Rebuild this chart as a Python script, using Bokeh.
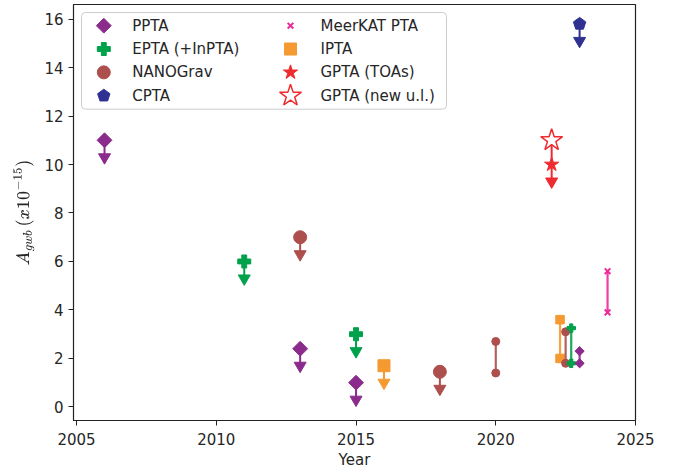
import numpy as np
from bokeh.plotting import figure
from bokeh.models import Range1d, SingleIntervalTicker
from bokeh.core.properties import value
from bokeh.embed import file_html
from bokeh.resources import INLINE

# ---------------- data ----------------
ppta_ul_year = [2006, 2013, 2015]
ppta_ul = [11.0, 2.4, 1.0]
ppta_rng_year = [2023.0]
ppta_rng_lo = [1.8]
ppta_rng_hi = [2.3]

epta_ul_year = [2011, 2015]
epta_ul = [6.0, 3.0]
epta_rng_year = [2022.7]
epta_rng_lo = [1.8]
epta_rng_hi = [3.25]

nanograv_ul_year = [2013, 2018]
nanograv_ul = [7.0, 1.45]
nanograv_rng_year = [2020.0, 2022.5]
nanograv_rng_lo = [1.4, 1.8]
nanograv_rng_hi = [2.7, 3.1]

cpta_ul_year = [2023.0]
cpta_ul = [15.8]

meerkat_rng_year = [2024.0]
meerkat_rng_lo = [3.9]
meerkat_rng_hi = [5.6]

ipta_ul_year = [2016.0]
ipta_ul = [1.7]
ipta_rng_year = [2022.3]
ipta_rng_lo = [2.0]
ipta_rng_hi = [3.6]

gpta_toa_year = [2022.0]
gpta_toa = [10.0]
gpta_new_year = [2022.0]
gpta_new = [11.0]

legend_col1 = ["PPTA", "EPTA (+InPTA)", "NANOGrav", "CPTA"]
legend_col2 = ["MeerKAT PTA", "IPTA", "GPTA (TOAs)", "GPTA (new u.l.)"]

x_ticks_interval = 5
y_ticks_interval = 2

# ---------------- styles ----------------
C_PPTA = "#8b2c8c"
C_EPTA = "#00a14b"
C_NANO = "#ad4f4d"
C_CPTA = "#2e3192"
C_MEER = "#ec2a9a"
C_IPTA = "#f49a30"
C_GPTA = "#ee2b2f"
TXT = "#262626"
FONT = "DejaVu Sans"
FS = "15px"
SHAFT = 0.6     # arrow shaft length (y units)
HEAD = 0.70     # arrow head centre offset (y units)

S_PPTA = dict(marker="square", angle=np.pi / 4, size=10.5, fill_color=C_PPTA, line_color=C_PPTA)
S_EPTA = dict(marker="plus", size=13, fill_color=C_EPTA, line_color=C_EPTA)
S_NANO = dict(marker="circle", size=13, fill_color=C_NANO, line_color=C_NANO)
S_CPTA = dict(radius=6.5, radius_units="screen", n=5, fill_color=C_CPTA, line_color=C_CPTA)
S_MEER = dict(marker="x", size=8, line_color=C_MEER, line_width=2)
S_IPTA = dict(marker="square", size=12, fill_color=C_IPTA, line_color=C_IPTA)
S_GTOA = dict(marker="star", size=15, fill_color=C_GPTA, line_color=C_GPTA)
S_GNEW = dict(marker="star", size=23, fill_color="white", line_color=C_GPTA, line_width=1.5)

FW, FH = 562, 416
p = figure(frame_width=FW, frame_height=FH,
           x_range=Range1d(2004.89, 2025.0), y_range=Range1d(-0.56, 16.6),
           output_backend="svg", toolbar_location=None,
           min_border_left=73, min_border_right=37, min_border_top=4, min_border_bottom=0)
p.extra_x_ranges = {"px": Range1d(0, FW)}
p.extra_y_ranges = {"px": Range1d(FH, 0)}
p.grid.visible = False
p.outline_line_color = "#222222"
p.outline_line_width = 1.2

for ax in (p.xaxis, p.yaxis):
    ax.axis_line_color = "#222222"
    ax.major_tick_line_color = "#222222"
    ax.major_tick_out = 5
    ax.major_tick_in = 0
    ax.minor_tick_line_color = None
    ax.major_label_text_font = FONT
    ax.major_label_text_font_size = FS
    ax.major_label_text_color = TXT
    ax.axis_label_text_font = FONT
    ax.axis_label_text_font_size = FS
    ax.axis_label_text_color = TXT
    ax.axis_label_text_font_style = "normal"

p.xaxis.major_label_standoff = 7
p.xaxis.axis_label_standoff = 3
p.yaxis.major_label_standoff = 5
p.yaxis.axis_label_standoff = 7
p.yaxis.axis_label_text_font_size = "14.5px"

p.xaxis.ticker = SingleIntervalTicker(interval=x_ticks_interval, num_minor_ticks=0)
p.yaxis.ticker = SingleIntervalTicker(interval=y_ticks_interval, num_minor_ticks=0)
p.xaxis.axis_label = "Year"
p.yaxis.axis_label = r"$$A_{gwb}\,(x10^{-15})$$"


def arrows(years, vals, color):
    tips = [v - SHAFT for v in vals]
    heads = [v - HEAD for v in vals]
    p.segment(x0=years, y0=vals, x1=years, y1=tips, line_color=color, line_width=2)
    p.scatter(x=years, y=heads, marker="inverted_triangle", size=12,
              fill_color=color, line_color=color)


def ranges(years, lo, hi, color, style):
    p.segment(x0=years, y0=lo, x1=years, y1=hi, line_color=color, line_width=2.2, line_alpha=0.9)
    p.scatter(x=years + years, y=lo + hi, **style)


# ranges (drawn first, behind)
ranges(ipta_rng_year, ipta_rng_lo, ipta_rng_hi, C_IPTA, dict(S_IPTA, size=8.5))
ranges(nanograv_rng_year, nanograv_rng_lo, nanograv_rng_hi, C_NANO, dict(S_NANO, size=8))
ranges(epta_rng_year, epta_rng_lo, epta_rng_hi, C_EPTA, dict(S_EPTA, size=8.5))
ranges(ppta_rng_year, ppta_rng_lo, ppta_rng_hi, C_PPTA, dict(S_PPTA, size=6.5))
ranges(meerkat_rng_year, meerkat_rng_lo, meerkat_rng_hi, C_MEER, S_MEER)

# upper limits
arrows(ppta_ul_year, ppta_ul, C_PPTA)
p.scatter(x=ppta_ul_year, y=ppta_ul, **S_PPTA)
arrows(epta_ul_year, epta_ul, C_EPTA)
p.scatter(x=epta_ul_year, y=epta_ul, **S_EPTA)
arrows(nanograv_ul_year, nanograv_ul, C_NANO)
p.scatter(x=nanograv_ul_year, y=nanograv_ul, **S_NANO)
arrows(cpta_ul_year, cpta_ul, C_CPTA)
p.ngon(x=cpta_ul_year, y=cpta_ul, **S_CPTA)
arrows(ipta_ul_year, ipta_ul, C_IPTA)
p.scatter(x=ipta_ul_year, y=ipta_ul, **S_IPTA)
p.segment(x0=gpta_new_year, y0=gpta_new, x1=gpta_toa_year, y1=gpta_toa,
          line_color=C_GPTA, line_width=2)
arrows(gpta_toa_year, gpta_toa, C_GPTA)
p.scatter(x=gpta_toa_year, y=gpta_toa, **S_GTOA)
p.scatter(x=gpta_new_year, y=gpta_new, **S_GNEW)

# ---------------- legend (frame pixel coordinates, y downwards) ----------------
LEG = dict(x_range_name="px", y_range_name="px")
box_l, box_t, box_r, box_b = 8, 8, 373, 104.7
row0, row_step = 21.2, 23.33
col_glyph = [30.3, 217.0]
col_text = [58.7, 247.0]
rows = [row0 + row_step * i for i in range(4)]

p.quad(left=[box_l], right=[box_r], top=[box_t], bottom=[box_b],
       fill_color="white", fill_alpha=0.8, line_color="#cccccc", line_width=1,
       border_radius=4, **LEG)

col1_styles = [S_PPTA, S_EPTA, S_NANO, None]
for i, st in enumerate(col1_styles):
    if st is None:
        p.ngon(x=[col_glyph[0]], y=[rows[i]], **S_CPTA, **LEG)
    else:
        p.scatter(x=[col_glyph[0]], y=[rows[i]], **st, **LEG)
col2_styles = [S_MEER, S_IPTA, S_GTOA, S_GNEW]
for i, st in enumerate(col2_styles):
    p.scatter(x=[col_glyph[1]], y=[rows[i]], **st, **LEG)

for c, labels in enumerate([legend_col1, legend_col2]):
    p.text(x=[col_text[c]] * len(labels), y=rows, text=labels,
           text_baseline="middle", text_align="left",
           text_font=value(FONT), text_font_size=FS, text_color=TXT, **LEG)

open("out.html", "w").write(file_html(p, INLINE))
